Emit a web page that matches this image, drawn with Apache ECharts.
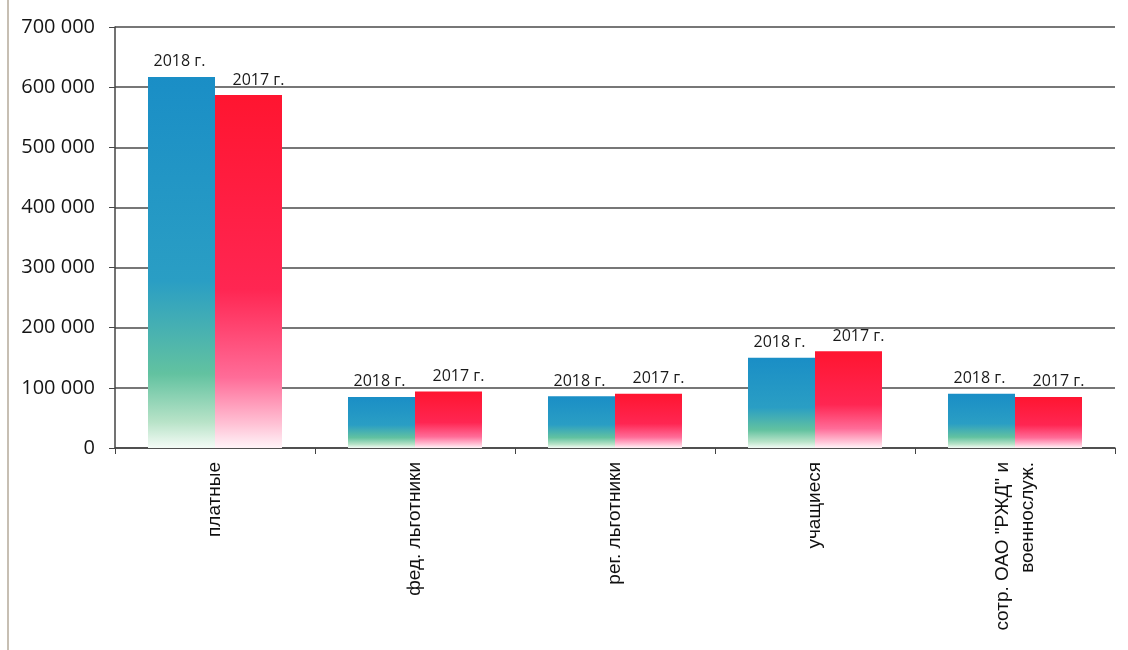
<!DOCTYPE html>
<html><head><meta charset="utf-8">
<script src="https://cdn.jsdelivr.net/npm/echarts@6/dist/echarts.min.js"></script>
<style>html,body{margin:0;padding:0;background:#fff;}#c{width:1128px;height:650px;}</style>
</head><body><div id="c"></div>
<script>
var categories = ['платные', 'фед. льготники', 'рег. льготники', 'учащиеся', 'сотр. ОАО "РЖД" и\nвоеннослуж.'];
var seriesNames = ['2018 г.', '2017 г.'];
var values2018 = [617000, 85000, 86000, 150000, 90000];
var values2017 = [587000, 94000, 90000, 161000, 85000];

var chart = echarts.init(document.getElementById('c'));
function grad(stops){
  return new echarts.graphic.LinearGradient(0,0,0,1,stops);
}
function lbl(offsetX){
  return {show:true, position:'top', distance:7, offset:[offsetX,0], formatter:function(p){return p.seriesName;}, color:'#1a1a1a', fontFamily:'Open Sans', fontSize:16};
}
chart.setOption({
  animation:false,
  backgroundColor:'#fff',
  grid:{left:115, right:13, top:27, bottom:202},
  xAxis:{type:'category', data:categories,
    axisLine:{lineStyle:{color:'#444', width:1.5}},
    axisTick:{show:true, length:6, lineStyle:{color:'#444'}},
    axisLabel:{rotate:90, color:'#111', fontFamily:'Liberation Sans', fontSize:19, margin:14, lineHeight:25}
  },
  yAxis:{type:'value', min:0, max:700000, interval:100000,
    axisLine:{show:true, lineStyle:{color:'#444', width:1.5}},
    axisTick:{show:true, length:6, lineStyle:{color:'#444'}},
    splitLine:{lineStyle:{color:'#4a4a4a', width:1.5}},
    axisLabel:{color:'#151515', fontFamily:'Open Sans', fontSize:20, margin:20,
      formatter:function(v){return String(v).replace(/\B(?=(\d{3})+(?!\d))/g,' ');}}
  },
  graphic:[{type:'line', shape:{x1:8,y1:0,x2:8,y2:650}, style:{stroke:'#b5aa9a', lineWidth:1.5}}],
  series:[
    {name:seriesNames[0], type:'bar', data:values2018, barGap:'0%', barCategoryGap:'33%',
      itemStyle:{color:grad([{offset:0,color:'#1a8ec6'},{offset:0.55,color:'#2a9ec4'},{offset:0.8,color:'#62c2a0'},{offset:0.93,color:'#b8e3c8'},{offset:1,color:'#f4fbf6'}])},
      label:lbl(-2)},
    {name:seriesNames[1], type:'bar', data:values2017,
      itemStyle:{color:grad([{offset:0,color:'#ff1530'},{offset:0.55,color:'#ff2652'},{offset:0.8,color:'#ff6c98'},{offset:0.93,color:'#ffc0d4'},{offset:1,color:'#fff4f8'}])},
      label:lbl(10)}
  ]
});
</script></body></html>
